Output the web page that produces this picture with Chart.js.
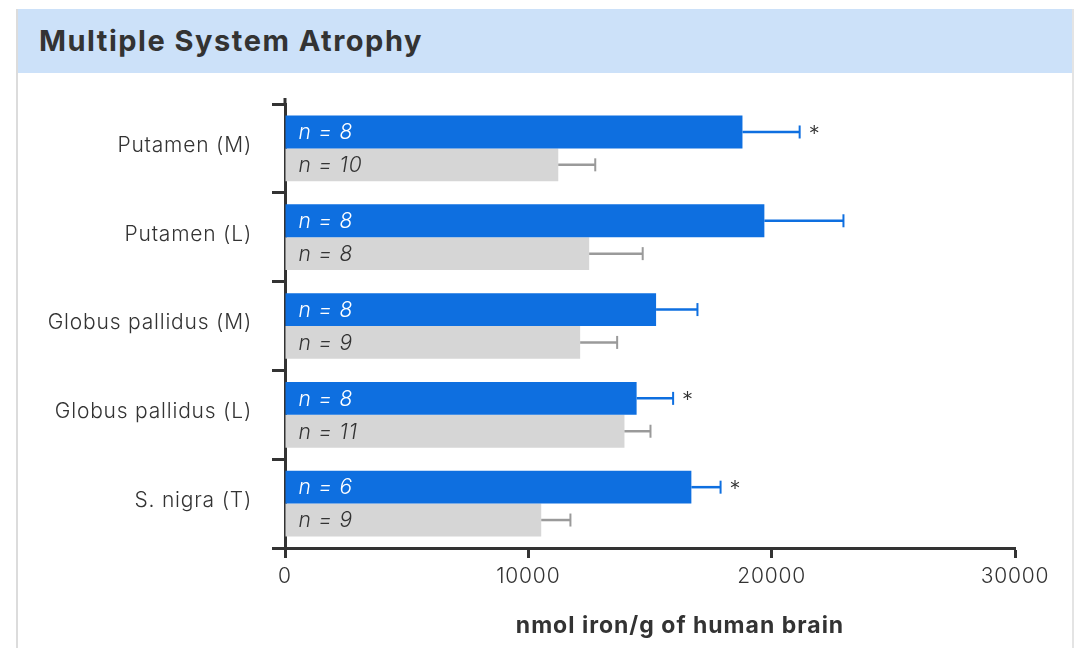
<!DOCTYPE html>
<html>
<head>
<meta charset="utf-8">
<title>Multiple System Atrophy</title>
<script src="https://cdn.jsdelivr.net/npm/chart.js@4"></script>
<style>
    html, body { margin: 0; padding: 0; background: #ffffff; overflow: hidden; }
    body { width: 1074px; height: 648px; position: relative; font-family: Inter, "Open Sans", sans-serif; }
    .panel {
        position: absolute; left: 16px; top: 9px; width: 1054px; height: 660px;
        border-left: 2px solid #dcdcdc; border-right: 2px solid #e4e4e4; background: #fff;
    }
    .panel-head {
        height: 64px; background: #cce1f9; color: #333;
        font-weight: 700; font-size: 29px; letter-spacing: 1.5px; line-height: 64px; padding-left: 21px;
    }
    #chart { position: absolute; left: 0; top: 0; }
</style>
</head>
<body>
<div class="panel"><div class="panel-head">Multiple System Atrophy</div></div>
<canvas id="chart" width="1074" height="648"></canvas>
<script>
// regions of the brain, top to bottom
const regions = ['Putamen (M)', 'Putamen (L)', 'Globus pallidus (M)', 'Globus pallidus (L)', 'S. nigra (T)'];

// MSA group (blue) - mean and error (SD) in nmol iron/g
const msaMean = [18800, 19700, 15250, 14450, 16700];
const msaErr = [2350, 3250, 1700, 1500, 1200];
const msaN = [8, 8, 8, 8, 6];
const msaSignif = [true, false, false, true, true];

// control group (gray)
const ctrlMean = [11230, 12500, 12130, 13950, 10530];
const ctrlErr = [1520, 2200, 1520, 1070, 1200];
const ctrlN = [10, 8, 9, 11, 9];

const xTicks = [0, 10000, 20000, 30000];
const xTitle = 'nmol iron/g of human brain';

const BLUE = '#0e6fe0';
const GRAY = '#d6d6d6';
const INK = '#333333';

// Montserrat isn't installed, so widen Inter a little
const spacing = {
    id: 'spacing',
    beforeDraw(chart) { chart.ctx.letterSpacing = '0.8px'; }
};

// error bars, n labels and asterisks drawn on top of the bars
const barExtras = {
    id: 'barExtras',
    afterDatasetsDraw(chart) {
        const ctx = chart.ctx;
        const xs = chart.scales.x;
        const ys = chart.scales.y;
        const groups = [
            { err: msaErr, mean: msaMean, n: msaN, line: BLUE, text: '#ffffff' },
            { err: ctrlErr, mean: ctrlMean, n: ctrlN, line: '#9a9a9a', text: INK }
        ];
        ctx.save();
        groups.forEach((g, di) => {
            const meta = chart.getDatasetMeta(di);
            meta.data.forEach((bar, i) => {
                const end = xs.getPixelForValue(g.mean[i] + g.err[i]);
                ctx.strokeStyle = g.line;
                ctx.lineWidth = 2.5;
                ctx.beginPath();
                ctx.moveTo(bar.x, bar.y);
                ctx.lineTo(end, bar.y);
                ctx.stroke();
                ctx.lineWidth = 2;
                ctx.beginPath();
                ctx.moveTo(end, bar.y - 6.5);
                ctx.lineTo(end, bar.y + 6.5);
                ctx.stroke();

                ctx.fillStyle = g.text;
                ctx.font = 'italic 300 21px Inter, "Open Sans", sans-serif';
                ctx.textAlign = 'left';
                ctx.textBaseline = 'middle';
                ctx.fillText('n = ' + g.n[i], bar.base + 13, bar.y + 1);

                if (di === 0 && msaSignif[i]) {
                    ctx.fillStyle = INK;
                    ctx.font = '300 22px Inter, sans-serif';
                    ctx.fillText('*', end + 9, bar.y + 2);
                }
            });
        });
        // y axis line runs a little above the top tick
        ctx.strokeStyle = INK;
        ctx.lineWidth = 3;
        ctx.beginPath();
        ctx.moveTo(xs.left, ys.top - 6);
        ctx.lineTo(xs.left, ys.top + 1);
        ctx.stroke();

        // axis title sits a bit right of the plot centre in the original
        ctx.fillStyle = INK;
        ctx.font = '700 23px Inter, sans-serif';
        ctx.letterSpacing = '1px';
        ctx.textAlign = 'center';
        ctx.textBaseline = 'middle';
        ctx.fillText(xTitle, 680, 626);
        ctx.restore();
    }
};

new Chart(document.getElementById('chart'), {
    type: 'bar',
    data: {
        labels: regions,
        datasets: [
            { label: 'MSA', data: msaMean, backgroundColor: BLUE, borderWidth: 0 },
            { label: 'Control', data: ctrlMean, backgroundColor: GRAY, borderWidth: 0 }
        ]
    },
    options: {
        indexAxis: 'y',
        responsive: false,
        animation: false,
        devicePixelRatio: 1,
        layout: { padding: { top: 104, right: 59, left: 0, bottom: 0 } },
        datasets: { bar: { categoryPercentage: 0.74, barPercentage: 1.0 } },
        plugins: { legend: { display: false }, tooltip: { enabled: false } },
        scales: {
            x: {
                min: 0, max: 30000,
                afterBuildTicks: s => { s.ticks = xTicks.map(v => ({ value: v })); },
                ticks: {
                    color: INK, font: { family: 'Inter', size: 21, weight: 300 }, padding: 6,
                    callback: v => String(v)
                },
                grid: { drawOnChartArea: false, tickLength: 10, tickWidth: 3, color: INK },
                border: { display: true, color: INK, width: 3 },
                afterFit: s => { s.height = 100; }
            },
            y: {
                offset: true,
                ticks: {
                    color: INK, font: { family: 'Inter', size: 21, weight: 300 }, padding: 20,
                    labelOffset: -3
                },
                grid: { offset: true, drawOnChartArea: false, tickLength: 13, tickWidth: 3, color: INK },
                border: { display: true, color: INK, width: 3 },
                afterFit: s => { s.width = 285; }
            }
        }
    },
    plugins: [spacing, barExtras]
});
</script>
</body>
</html>
